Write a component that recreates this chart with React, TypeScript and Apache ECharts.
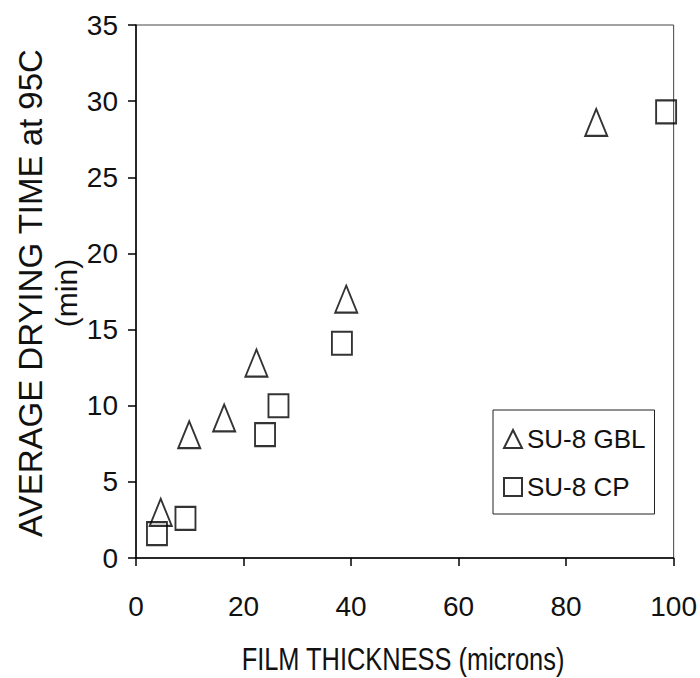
import React, { useEffect, useRef } from "react";
import * as echarts from "echarts";

const seriesNames = ["SU-8 GBL", "SU-8 CP"];
const gblThickness = [4.6, 9.9, 16.4, 22.4, 39.1, 85.6];
const gblTime = [3.0, 8.1, 9.2, 12.8, 17.0, 28.6];
const cpThickness = [3.9, 9.2, 24.0, 26.5, 38.3, 98.6];
const cpTime = [1.6, 2.6, 8.1, 10.0, 14.1, 29.3];
const xTitle = "FILM THICKNESS (microns)";
const yTitle = "AVERAGE DRYING TIME at 95C";
const yUnit = "(min)";

const REG = '"Liberation Sans", Arial, sans-serif';

export default function App() {
  const ref = useRef<HTMLDivElement>(null);
  useEffect(() => {
    if (!ref.current) return;
    const chart = echarts.init(ref.current, null, { renderer: "svg" });
    const markerStyle = { color: "rgba(255,255,255,0)", borderColor: "#000", borderWidth: 2 };
    chart.setOption({
      animation: false,
      backgroundColor: "#fff",
      grid: {
        left: 136,
        top: 25,
        right: 24,
        bottom: 120,
        show: true,
        borderColor: "#444",
        borderWidth: 1,
      },
      xAxis: {
        type: "value",
        min: 0,
        max: 100,
        interval: 20,
        axisLine: { show: true, lineStyle: { color: "#000", width: 1.5 } },
        axisTick: { show: true, inside: false, length: 8, lineStyle: { color: "#000", width: 1.5 } },
        axisLabel: { color: "#111", fontSize: 28, fontFamily: REG, margin: 34 },
        splitLine: { show: false },
      },
      yAxis: {
        type: "value",
        min: 0,
        max: 35,
        interval: 5,
        axisLine: { show: true, lineStyle: { color: "#000", width: 1.5 } },
        axisTick: { show: true, inside: false, length: 8, lineStyle: { color: "#000", width: 1.5 } },
        axisLabel: { color: "#111", fontSize: 28, fontFamily: REG, margin: 18 },
        splitLine: { show: false },
      },
      legend: {
        orient: "vertical",
        left: 493,
        top: 410,
        backgroundColor: "#fff",
        borderColor: "#222",
        borderWidth: 1,
        padding: [16, 9, 14, 10],
        itemGap: 22,
        itemWidth: 18,
        itemHeight: 18,
        textStyle: { color: "#111", fontSize: 26, fontFamily: REG, padding: [0, 0, 0, 0] },
        data: [
          { name: seriesNames[0], icon: "triangle" },
          { name: seriesNames[1], icon: "rect" },
        ],
      },
      series: [
        {
          name: seriesNames[1],
          type: "scatter",
          symbol: "rect",
          symbolSize: [20, 23],
          itemStyle: markerStyle,
          data: cpThickness.map((x, i) => [x, cpTime[i]]),
        },
        {
          name: seriesNames[0],
          type: "scatter",
          symbol: "triangle",
          symbolSize: [22, 27],
          itemStyle: markerStyle,
          data: gblThickness.map((x, i) => [x, gblTime[i]]),
        },
      ],
      graphic: [
        {
          type: "text",
          x: 30,
          y: 293,
          rotation: Math.PI / 2,
          style: {
            text: yTitle,
            fill: "#111",
            font: `33px ${REG}`,
            align: "center",
            verticalAlign: "middle",
          },
        },
        {
          type: "text",
          x: 66,
          y: 293,
          rotation: Math.PI / 2,
          style: {
            text: yUnit,
            fill: "#111",
            font: `30px ${REG}`,
            align: "center",
            verticalAlign: "middle",
          },
        },
        {
          type: "text",
          x: 403,
          y: 659,
          scaleX: 0.82,
          style: {
            text: xTitle,
            fill: "#111",
            font: `31px ${REG}`,
            align: "center",
            verticalAlign: "middle",
          },
        },
      ],
    });
    return () => chart.dispose();
  }, []);
  return <div ref={ref} style={{ width: 700, height: 678, position: "absolute", left: 0, top: 0 }} />;
}
